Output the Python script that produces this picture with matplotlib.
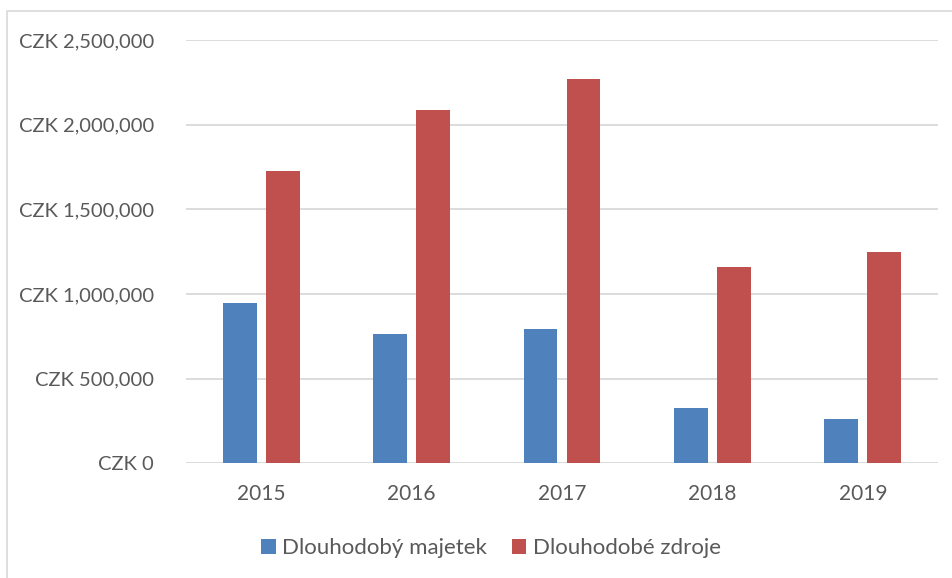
import numpy as np
import matplotlib.pyplot as plt
from matplotlib.patches import Rectangle
from matplotlib.ticker import FuncFormatter

# ---------------- data ----------------
years = ["2015", "2016", "2017", "2018", "2019"]
majetek = [946000, 762000, 791000, 327000, 262000]      # Dlouhodobý majetek
zdroje = [1728000, 2088000, 2270000, 1158000, 1246000]  # Dlouhodobé zdroje
series_names = ["Dlouhodobý majetek", "Dlouhodobé zdroje"]

blue = "#4F81BD"
red = "#C0504D"
text_col = "#595959"
grid_col = "#D9D9D9"

plt.rcParams["font.family"] = ["Lato", "DejaVu Sans"]

W, H = 952, 578
fig = plt.figure(figsize=(W / 100, H / 100), dpi=100)
ax = fig.add_axes([186 / W, 1 - 463.3 / H, (938 - 186) / W, (463.3 - 40) / H])

x = np.arange(len(years))
bw = 0.224
off = 0.143
ax.bar(x - off, majetek, bw, color=blue, label=series_names[0], zorder=3)
ax.bar(x + off, zdroje, bw, color=red, label=series_names[1], zorder=3)

ax.set_xlim(-0.5, len(years) - 0.5)
ax.set_ylim(0, 2500000)
ax.set_yticks(np.arange(0, 2500001, 500000))
ax.yaxis.set_major_formatter(FuncFormatter(lambda v, p: f"CZK {int(v):,}"))
ax.set_xticks(x)
ax.set_xticklabels(years)

ax.grid(axis="y", color=grid_col, linewidth=1.3, zorder=0)
for s in ax.spines.values():
    s.set_visible(False)
ax.tick_params(axis="x", length=0, labelsize=15, colors=text_col, pad=15)
ax.tick_params(axis="y", length=0, labelsize=14.5, colors=text_col, pad=23)

# chart border
fig.patches.append(Rectangle((7 / W, -0.05), 1.1, 1 - 11 / H + 0.05,
                             transform=fig.transFigure, fill=False,
                             edgecolor="#D9D9D9", linewidth=1.2))

fig.legend(loc="center", bbox_to_anchor=(491 / W, 1 - 548 / H), ncol=2,
           frameon=False, fontsize=16, labelcolor=text_col,
           handlelength=0.65, handleheight=0.65, handletextpad=0.3,
           columnspacing=1.1)

fig.savefig("out.png", dpi=100)
